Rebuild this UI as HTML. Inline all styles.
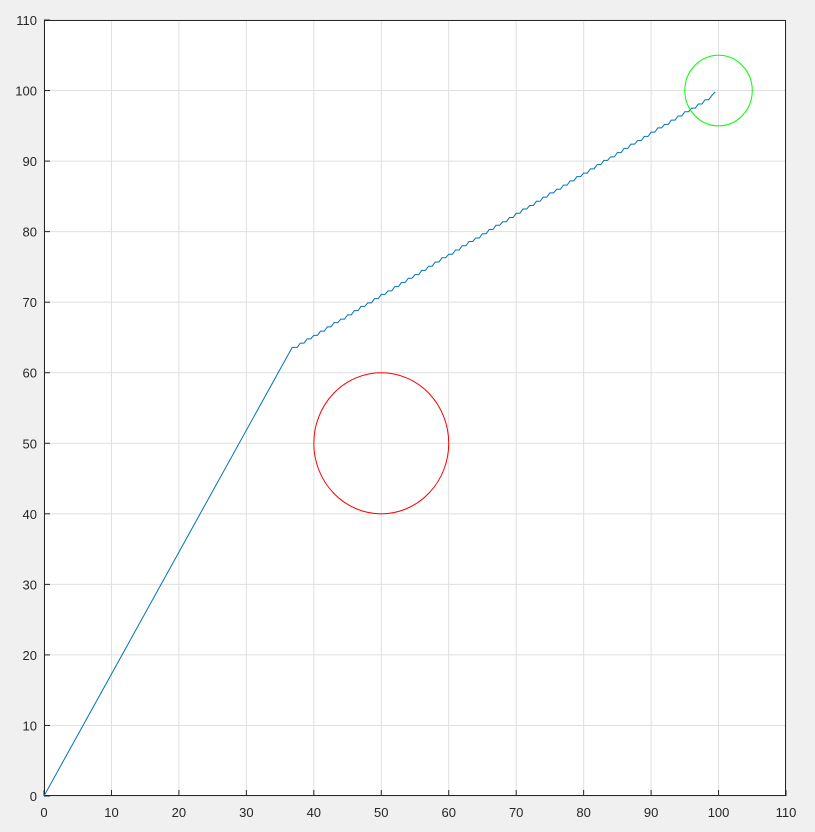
<!DOCTYPE html>
<html><head><meta charset="utf-8"><style>
html,body{margin:0;padding:0;background:#f0f0f0;}
svg{display:block;font-family:"Liberation Sans",sans-serif;}
</style></head><body>
<svg id="chart" width="815" height="832"></svg>
<script>
const xTicks=[0,10,20,30,40,50,60,70,80,90,100,110];
const yTicks=[0,10,20,30,40,50,60,70,80,90,100,110];
const lineStart=[[0,0],[36.8,63.6]];
const stepX=[37,38,39,40,41,42,43,44,45,46,47,48,49,50,51,52,53,54,55,56,57,58,59,60,61,62,63,64,65,66,67,68,69,70,71,72,73,74,75,76,77,78,79,80,81,82,83,84,85,86,87,88,89,90,91,92,93,94,95,96,97,98,99,99.5];
const stepY=[63.6,64.2,64.8,65.3,65.9,66.5,67.1,67.6,68.2,68.8,69.4,69.9,70.5,71.1,71.6,72.2,72.8,73.4,73.9,74.5,75.1,75.7,76.3,76.8,77.4,78.0,78.6,79.1,79.7,80.3,80.9,81.4,82.0,82.6,83.2,83.7,84.3,84.9,85.5,86.0,86.6,87.2,87.8,88.3,88.9,89.5,90.1,90.6,91.2,91.8,92.4,92.9,93.5,94.1,94.7,95.2,95.8,96.4,97.0,97.5,98.1,98.7,99.3,99.8];
const circles=[{cx:50,cy:50,r:10,color:"#ff0000",name:"red-circle"},{cx:100,cy:100,r:5,color:"#00ff00",name:"green-circle"}];

const L=44,R=786,T=20,B=796,xmax=110,ymax=110;
const sx=v=>L+(R-L)*v/xmax, sy=v=>B-(B-T)*v/ymax;
const svg=document.getElementById('chart');
const NS="http://www.w3.org/2000/svg";
function mk(tag,attrs){const e=document.createElementNS(NS,tag);for(const k in attrs)e.setAttribute(k,attrs[k]);svg.appendChild(e);return e;}

const bg=mk('rect',{x:L,y:T,width:R-L,height:B-T,fill:'#fff'});



xTicks.forEach(v=>{
  const g=mk('line',{x1:sx(v),x2:sx(v),y1:T,y2:B,stroke:'#dfdfdf','stroke-width':1});
  
  
  const t=mk('line',{x1:sx(v),x2:sx(v),y1:B,y2:B-6,stroke:'#262626','stroke-width':1});
  
  
  const tx=mk('text',{x:sx(v),y:B+21,'text-anchor':'middle','font-size':13,fill:'#262626'});
  tx.textContent=v;
  
  
});
yTicks.forEach(v=>{
  const g=mk('line',{x1:L,x2:R,y1:sy(v),y2:sy(v),stroke:'#dfdfdf','stroke-width':1});
  
  
  const t=mk('line',{x1:L,x2:L+6,y1:sy(v),y2:sy(v),stroke:'#262626','stroke-width':1});
  
  
  const tx=mk('text',{x:L-7,y:sy(v)+5,'text-anchor':'end','font-size':13,fill:'#262626'});
  tx.textContent=v;
  
  
});

const box=mk('rect',{x:L+0.5,y:T+0.5,width:R-L-1,height:B-T-1,fill:'none',stroke:'#262626','stroke-width':1});



let pts=lineStart.map(p=>[sx(p[0]),sy(p[1])]);
for(let k=0;k<stepX.length;k++){
  pts.push([sx(stepX[k]),sy(stepY[k])]);
  if(k<stepX.length-2)pts.push([sx(stepX[k]+0.55),sy(stepY[k])]);
}
const path=mk('polyline',{points:pts.map(p=>p.join(',')).join(' '),fill:'none',stroke:'#0072bd','stroke-width':1});



circles.forEach(c=>{
  const e=mk('ellipse',{cx:sx(c.cx),cy:sy(c.cy),rx:sx(c.r)-sx(0),ry:sy(0)-sy(c.r),fill:'none',stroke:c.color,'stroke-width':1});
  
  
});
</script>
</body></html>
